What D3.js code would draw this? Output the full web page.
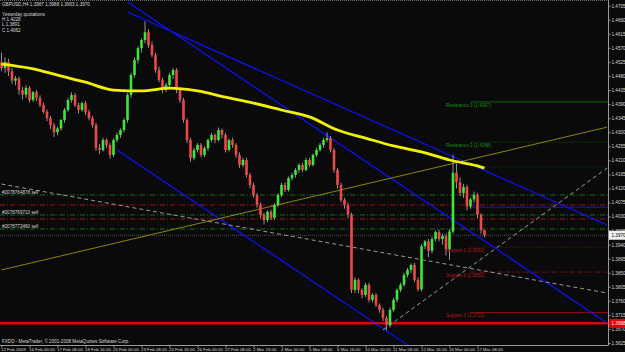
<!DOCTYPE html>
<html>
<head>
<meta charset="utf-8">
<script src="https://cdn.jsdelivr.net/npm/d3@7"></script>
<style>
  body { margin: 0; background: #0a0a0a; }
  svg { display: block; }
  text { font-family: "Liberation Sans", Arial, sans-serif; }
</style>
</head>
<body>
<div id="chart"></div>
<script>
const W = 625, H = 352
const plotRight = 608, plotBottom = 345

// GBPUSD H4 bars: [open, high, low, close]
const candles = [
  [1.4525,1.4555,1.4495,1.4505],[1.4505,1.4540,1.4490,1.4525],[1.4525,1.4535,1.4480,1.4495],[1.4495,1.4505,1.4455,1.4465],
  [1.4465,1.4480,1.4450,1.4472],[1.4472,1.4478,1.4420,1.4435],[1.4435,1.4445,1.4405,1.4420],[1.4420,1.4450,1.4410,1.4442],
  [1.4442,1.4448,1.4395,1.4403],[1.4403,1.4432,1.4398,1.4428],[1.4428,1.4435,1.4400,1.4410],[1.4410,1.4418,1.4380,1.4387],
  [1.4387,1.4395,1.4360,1.4365],[1.4365,1.4372,1.4335,1.4345],[1.4345,1.4352,1.4310,1.4323],[1.4323,1.4330,1.4285,1.4300],
  [1.4300,1.4318,1.4290,1.4312],[1.4312,1.4342,1.4305,1.4339],[1.4339,1.4378,1.4330,1.4371],[1.4371,1.4410,1.4365,1.4403],
  [1.4403,1.4428,1.4395,1.4419],[1.4419,1.4425,1.4380,1.4387],[1.4387,1.4395,1.4360,1.4371],[1.4371,1.4398,1.4365,1.4393],
  [1.4393,1.4400,1.4355,1.4364],[1.4364,1.4372,1.4338,1.4345],[1.4345,1.4352,1.4315,1.4323],[1.4323,1.4330,1.4240,1.4250],
  [1.4250,1.4262,1.4230,1.4243],[1.4243,1.4282,1.4238,1.4275],[1.4275,1.4280,1.4250,1.4259],[1.4259,1.4265,1.4215,1.4227],
  [1.4227,1.4280,1.4220,1.4275],[1.4275,1.4298,1.4268,1.4291],[1.4291,1.4312,1.4282,1.4307],[1.4307,1.4345,1.4300,1.4339],
  [1.4339,1.4425,1.4330,1.4419],[1.4419,1.4490,1.4410,1.4483],[1.4483,1.4540,1.4475,1.4531],[1.4531,1.4575,1.4520,1.4569],
  [1.4569,1.4600,1.4555,1.4595],[1.4595,1.4655,1.4585,1.4620],[1.4620,1.4630,1.4570,1.4579],[1.4579,1.4590,1.4540,1.4547],
  [1.4547,1.4555,1.4490,1.4499],[1.4499,1.4510,1.4460,1.4467],[1.4467,1.4475,1.4425,1.4435],[1.4435,1.4458,1.4428,1.4451],
  [1.4451,1.4490,1.4445,1.4483],[1.4483,1.4505,1.4470,1.4499],[1.4499,1.4505,1.4425,1.4435],[1.4435,1.4442,1.4395,1.4403],
  [1.4403,1.4410,1.4330,1.4339],[1.4339,1.4345,1.4265,1.4275],[1.4275,1.4282,1.4205,1.4217],[1.4217,1.4250,1.4210,1.4243],
  [1.4243,1.4265,1.4235,1.4259],[1.4259,1.4265,1.4220,1.4227],[1.4227,1.4255,1.4220,1.4249],[1.4249,1.4280,1.4240,1.4275],
  [1.4275,1.4298,1.4268,1.4291],[1.4291,1.4296,1.4265,1.4275],[1.4275,1.4315,1.4270,1.4307],[1.4307,1.4312,1.4280,1.4291],
  [1.4291,1.4298,1.4235,1.4243],[1.4243,1.4280,1.4238,1.4275],[1.4275,1.4282,1.4250,1.4259],[1.4259,1.4265,1.4218,1.4227],
  [1.4227,1.4235,1.4185,1.4195],[1.4195,1.4218,1.4188,1.4211],[1.4211,1.4218,1.4155,1.4163],[1.4163,1.4170,1.4120,1.4131],
  [1.4131,1.4138,1.4090,1.4099],[1.4099,1.4105,1.4058,1.4067],[1.4067,1.4075,1.4025,1.4035],[1.4035,1.4042,1.4005,1.4019],
  [1.4019,1.4050,1.4012,1.4045],[1.4045,1.4052,1.4018,1.4026],[1.4026,1.4072,1.4020,1.4067],[1.4067,1.4105,1.4060,1.4099],
  [1.4099,1.4138,1.4092,1.4131],[1.4131,1.4138,1.4108,1.4115],[1.4115,1.4158,1.4110,1.4153],[1.4153,1.4170,1.4145,1.4163],
  [1.4163,1.4185,1.4155,1.4179],[1.4179,1.4200,1.4170,1.4195],[1.4195,1.4202,1.4172,1.4179],[1.4179,1.4218,1.4175,1.4211],
  [1.4211,1.4218,1.4188,1.4195],[1.4195,1.4232,1.4190,1.4227],[1.4227,1.4250,1.4220,1.4243],[1.4243,1.4265,1.4238,1.4259],
  [1.4259,1.4282,1.4250,1.4275],[1.4275,1.4300,1.4268,1.4281],[1.4281,1.4288,1.4235,1.4243],[1.4243,1.4250,1.4170,1.4179],
  [1.4179,1.4185,1.4120,1.4131],[1.4131,1.4138,1.4075,1.4083],[1.4083,1.4090,1.4055,1.4067],[1.4067,1.4075,1.4025,1.4035],
  [1.4035,1.4042,1.3785,1.3795],[1.3795,1.3835,1.3785,1.3827],[1.3827,1.3832,1.3785,1.3795],[1.3795,1.3800,1.3768,1.3779],
  [1.3779,1.3818,1.3772,1.3811],[1.3811,1.3818,1.3755,1.3763],[1.3763,1.3785,1.3755,1.3779],[1.3779,1.3785,1.3740,1.3747],
  [1.3747,1.3752,1.3722,1.3731],[1.3731,1.3738,1.3695,1.3705],[1.3705,1.3712,1.3665,1.3683],[1.3683,1.3738,1.3675,1.3731],
  [1.3731,1.3770,1.3725,1.3763],[1.3763,1.3800,1.3755,1.3795],[1.3795,1.3818,1.3788,1.3811],[1.3811,1.3850,1.3805,1.3843],
  [1.3843,1.3865,1.3835,1.3859],[1.3859,1.3880,1.3850,1.3875],[1.3875,1.3882,1.3820,1.3827],[1.3827,1.3835,1.3790,1.3797],
  [1.3797,1.3942,1.3790,1.3935],[1.3935,1.3955,1.3925,1.3950],[1.3950,1.3958,1.3900,1.3920],[1.3920,1.3965,1.3912,1.3958],
  [1.3958,1.3985,1.3950,1.3980],[1.3980,1.3988,1.3950,1.3958],[1.3958,1.3975,1.3940,1.3968],[1.3968,1.3975,1.3905,1.3925],
  [1.3925,1.3990,1.3891,1.3982],[1.3982,1.4228,1.3975,1.4170],[1.4170,1.4200,1.4120,1.4140],[1.4140,1.4155,1.4095,1.4105],
  [1.4105,1.4135,1.4090,1.4125],[1.4125,1.4132,1.4050,1.4062],[1.4062,1.4090,1.4055,1.4085],[1.4085,1.4110,1.4075,1.4100],
  [1.4100,1.4105,1.4025,1.4035],[1.4035,1.4040,1.3975,1.3987],[1.3987,1.3988,1.3963,1.3970]
]

// moving average, read every 8 bars
const maBars   = [0, 8, 16, 24, 32, 40, 48, 56, 64, 72, 80, 88, 96, 104, 112, 120, 128, 136, 138]
const maValues = [1.4518, 1.4505, 1.4483, 1.4460, 1.4435, 1.4432, 1.4441, 1.4432, 1.4412, 1.4393,
                  1.4371, 1.4349, 1.4307, 1.4281, 1.4256, 1.4237, 1.4211, 1.4192, 1.4185]

const priceTicks = ['1.4705','1.4660','1.4615','1.4570','1.4525','1.4480','1.4435','1.4390','1.4345',
  '1.4300','1.4255','1.4210','1.4165','1.4120','1.4075','1.4030','1.3985','1.3940','1.3895','1.3850',
  '1.3805','1.3760','1.3715','1.3670','1.3625']

const timeTickBars = [0, 8, 16, 24, 32, 40, 48, 56, 64, 72, 80, 88, 96, 104, 112, 120, 128, 136]
const timeLabels = ['12 Feb 2009','16 Feb 00:00','17 Feb 08:00','18 Feb 16:00','20 Feb 00:00','23 Feb 08:00',
  '24 Feb 16:00','26 Feb 00:00','27 Feb 08:00','2 Mar 16:00','4 Mar 00:00','5 Mar 08:00','6 Mar 16:00',
  '10 Mar 00:00','11 Mar 08:00','12 Mar 16:00','16 Mar 00:00','17 Mar 08:00']

// trend lines: [bar, price] -> [bar, price]
const trendLines = [
  { from: [36, 1.4685], to: [173, 1.4003], color: '#1010ff', dash: null, w: 1.2 },
  { from: [36, 1.4717], to: [173, 1.3689], color: '#1010ff', dash: null, w: 1.2 },
  { from: [33, 1.4243], to: [116, 1.3619], color: '#1010ff', dash: null, w: 1.2 },
  { from: [0, 1.4134], to: [173, 1.3785], color: '#9a9a9a', dash: '4,3', w: 1 },
  { from: [109, 1.3667], to: [173, 1.4185], color: '#9a9a9a', dash: '4,3', w: 1 },
  { from: [0, 1.3859], to: [173, 1.4316], color: '#a8a800', dash: null, w: 0.8 }
]

// open orders
const orderPrices = [1.4099, 1.4035, 1.3990]
const orderLabels = ['#2078764878 sell', '#2078769710 sell', '#2078772460 sell']
const stopPrices = [1.4067, 1.4022]

// daily fibonacci pivots
const pivotNames  = ['Resistance 3', 'Resistance 2', 'Resistance 1', 'Pivot', 'Support 1', 'Support 2', 'Support 3']
const pivotPrices = [1.4397, 1.4268, 1.4189, 1.4060, 1.3932, 1.3852, 1.3723]

const lastPrice = 1.3970
const redLevel = 1.3688

const svg = d3.select('#chart').append('svg')
  .attr('width', W).attr('height', H)
  .style('background', '#0a0a0a')

const x = d3.scaleLinear().domain([0, 173]).range([1.5, 607])
const y = d3.scaleLinear().domain([1.3625, 1.4705]).range([343, 5.7])

svg.append('defs').append('clipPath').attr('id', 'clip')
  .append('rect').attr('x', 0).attr('y', 0).attr('width', plotRight).attr('height', plotBottom)
const plot = svg.append('g').attr('clip-path', 'url(#clip)')

// order lines
plot.selectAll('.order').data(orderPrices).enter().append('line')
  .attr('x1', 0).attr('x2', plotRight)
  .attr('y1', d => y(d)).attr('y2', d => y(d))
  .attr('stroke', '#1c8a1c').attr('stroke-width', 0.8).attr('stroke-dasharray', '5,2,1,2')
plot.selectAll('.stop').data(stopPrices).enter().append('line')
  .attr('x1', 0).attr('x2', plotRight)
  .attr('y1', d => y(d)).attr('y2', d => y(d))
  .attr('stroke', '#c01818').attr('stroke-width', 0.8).attr('stroke-dasharray', '5,2,1,2')

// pivot lines
const pivotStyle = [
  { c: '#106c10', dash: null }, { c: '#127012', dash: '1,2' }, { c: '#0e4e0e', dash: '1,2' },
  { c: '#2020c0', dash: null }, { c: '#8a1414', dash: '1,2' }, { c: '#8a1414', dash: '4,2,1,2' },
  { c: '#a01010', dash: null }
]
plot.selectAll('.pivot').data(pivotPrices).enter().append('line')
  .attr('x1', x(134)).attr('x2', plotRight)
  .attr('y1', d => y(d)).attr('y2', d => y(d))
  .attr('stroke', (d, i) => pivotStyle[i].c)
  .attr('stroke-width', 0.9)
  .attr('stroke-dasharray', (d, i) => pivotStyle[i].dash)

// bid line
plot.append('line')
  .attr('x1', 0).attr('x2', plotRight)
  .attr('y1', y(lastPrice)).attr('y2', y(lastPrice))
  .attr('stroke', '#707070').attr('stroke-width', 0.7).attr('stroke-dasharray', '1,1')

// red horizontal level
plot.append('line')
  .attr('x1', 0).attr('x2', plotRight)
  .attr('y1', y(redLevel)).attr('y2', y(redLevel))
  .attr('stroke', '#e00000').attr('stroke-width', 2.5)

// trend lines
plot.selectAll('.trend').data(trendLines).enter().append('line')
  .attr('x1', d => x(d.from[0])).attr('y1', d => y(d.from[1]))
  .attr('x2', d => x(d.to[0])).attr('y2', d => y(d.to[1]))
  .attr('stroke', d => d.color)
  .attr('stroke-width', d => d.w)
  .attr('stroke-dasharray', d => d.dash)

// candles
const bars = plot.selectAll('.bar').data(candles).enter().append('g')
bars.append('line')
  .attr('x1', (d, i) => x(i)).attr('x2', (d, i) => x(i))
  .attr('y1', d => y(d[1])).attr('y2', d => y(d[2]))
  .attr('stroke', '#b4b4b4').attr('stroke-width', 0.8)
bars.append('rect')
  .attr('x', (d, i) => x(i) - 1.3)
  .attr('width', 2.6)
  .attr('y', d => y(Math.max(d[0], d[3])))
  .attr('height', d => Math.max(0.8, Math.abs(y(d[0]) - y(d[3]))))
  .attr('fill', d => d[3] >= d[0] ? '#3ce83c' : '#f04848')

// moving average
const maLine = d3.line()
  .x((d, i) => x(maBars[i]))
  .y(d => y(d))
  .curve(d3.curveMonotoneX)
plot.append('path')
  .attr('d', maLine(maValues))
  .attr('fill', 'none')
  .attr('stroke', '#f2f200')
  .attr('stroke-width', 2.8)

// order labels
svg.selectAll('.olabel').data(orderPrices).enter().append('text')
  .attr('x', 2).attr('y', d => y(d) - 0.6)
  .attr('font-size', 4.6).attr('fill', '#d8d8d8')
  .text((d, i) => orderLabels[i])

// pivot labels
const shownPivots = [0, 1, 4, 5, 6]
svg.selectAll('.plabel').data(shownPivots).enter().append('text')
  .attr('x', x(127)).attr('y', i => y(pivotPrices[i]) + 5)
  .attr('font-size', 4.6)
  .attr('fill', i => i < 3 ? '#1c8a1c' : '#b01c1c')
  .text(i => `${pivotNames[i]} (${pivotPrices[i].toFixed(4)})`)

// axes
svg.append('line').attr('x1', plotRight + 0.5).attr('x2', plotRight + 0.5)
  .attr('y1', 0).attr('y2', plotBottom + 0.5).attr('stroke', '#9a9a9a').attr('stroke-width', 1)
svg.append('line').attr('x1', 0).attr('x2', plotRight + 0.5)
  .attr('y1', plotBottom + 0.5).attr('y2', plotBottom + 0.5).attr('stroke', '#9a9a9a').attr('stroke-width', 1)
svg.append('line').attr('x1', 0).attr('x2', plotRight)
  .attr('y1', 0.5).attr('y2', 0.5).attr('stroke', '#6a6a6a').attr('stroke-width', 1).attr('stroke-dasharray', '1,1')

const yAxis = d3.axisRight(y)
  .tickValues(priceTicks.map(Number))
  .tickFormat(d => d.toFixed(4))
  .tickSize(2).tickPadding(1)
const yg = svg.append('g').attr('transform', `translate(${plotRight + 0.5},0)`).call(yAxis)
yg.select('.domain').remove()
yg.selectAll('line').attr('stroke', '#9a9a9a')
yg.selectAll('text').attr('font-size', 4.6).attr('fill', '#d8d8d8')
  .attr('font-family', '"Liberation Sans", Arial, sans-serif')

const xAxis = d3.axisBottom(x)
  .tickValues(timeTickBars)
  .tickFormat((d, i) => timeLabels[i])
  .tickSize(2).tickPadding(0)
const xg = svg.append('g').attr('transform', `translate(0,${plotBottom + 0.5})`).call(xAxis)
xg.select('.domain').remove()
xg.selectAll('line').attr('stroke', '#9a9a9a')
xg.selectAll('text').attr('font-size', 4.4).attr('fill', '#d8d8d8')
  .attr('text-anchor', 'start').attr('dx', -1)
  .attr('font-family', '"Liberation Sans", Arial, sans-serif')

// price boxes on the axis
const box = (price, fill, color) => {
  const g = svg.append('g').attr('transform', `translate(${plotRight + 1},${y(price)})`)
  g.append('rect').attr('x', 0).attr('y', -4.5).attr('width', 17).attr('height', 9).attr('fill', fill)
  g.append('text').attr('x', 2.5).attr('y', 1.7).attr('font-size', 4.6).attr('fill', color)
    .text(price.toFixed(4))
}
box(lastPrice, '#f0f0f0', '#000')
box(redLevel, '#e00000', '#fff')

// header text
const header = ['GBPUSD,H4  1.3987 1.3988 1.3963 1.3970', 'Yesterday quotations', 'H 1.4228', 'L 1.3891', 'C 1.4062']
const headerY = [5.5, 16, 20.5, 26, 31.5]
header.forEach((t, i) => {
  svg.append('text').attr('x', 2).attr('y', headerY[i])
    .attr('font-size', 4.6).attr('fill', '#d8d8d8').text(t)
})

svg.append('text').attr('x', 2).attr('y', 342.5)
  .attr('font-size', 4.6).attr('fill', '#d8d8d8')
  .text('FXDD - MetaTrader, © 2001-2008 MetaQuotes Software Corp.')
</script>
</body>
</html>
